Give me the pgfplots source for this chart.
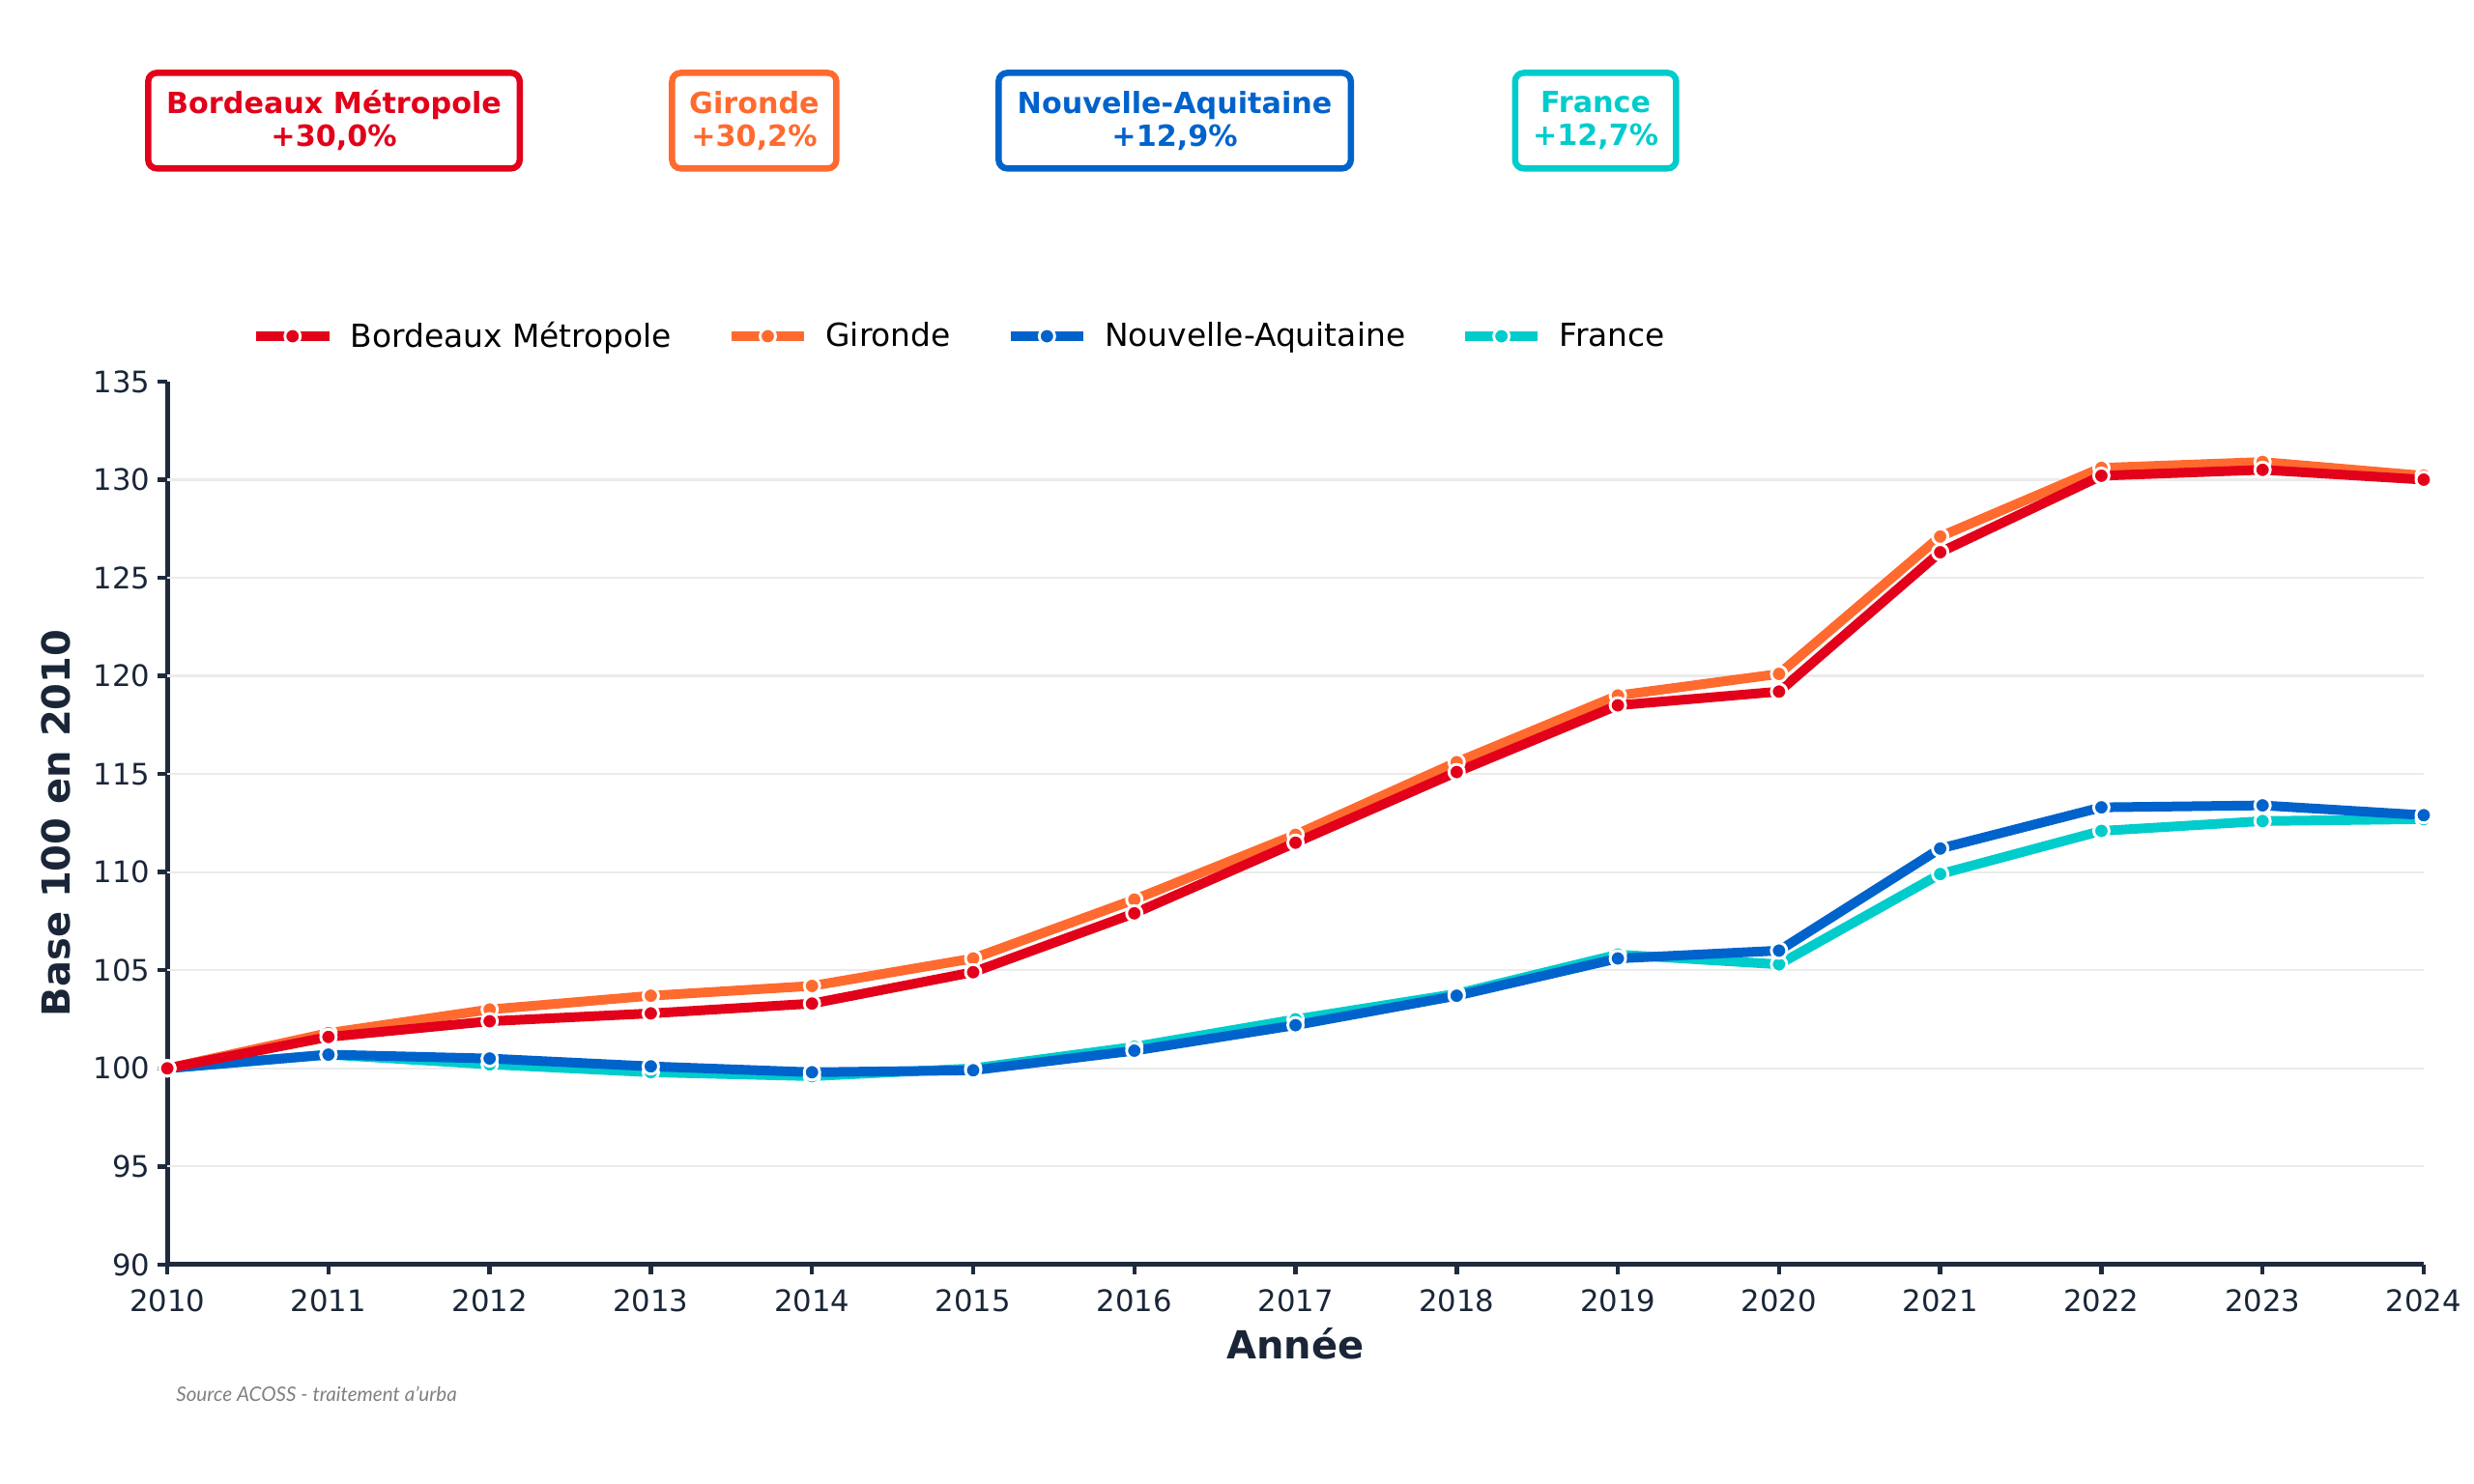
\documentclass[border=0pt]{standalone}
\usepackage{fontspec}
\setmainfont{DejaVu Sans}
\newfontfamily\srcfont{Lato}
\usepackage{pgfplots}
\pgfplotsset{compat=1.18}
\definecolor{cBM}{HTML}{E2001A}
\definecolor{cGI}{HTML}{FF6A2F}
\definecolor{cNA}{HTML}{0063CB}
\definecolor{cFR}{HTML}{00CCCC}
\definecolor{axiscol}{HTML}{1F2B3C}
\definecolor{tickcol}{HTML}{1A2638}
\definecolor{gridcol}{HTML}{EBEBEB}
\begin{document}
\begin{tikzpicture}
\useasboundingbox (0,0) rectangle (1152pt,691.2pt);
\begin{axis}[
  at={(77.9pt,102.2pt)}, anchor=south west,
  scale only axis, width=1050.7pt, height=411.3pt,
  xmin=2010, xmax=2024, ymin=90, ymax=135,
  xtick={2010,2011,...,2024}, ytick={90,95,...,135},
  extra y ticks={95,100,...,130},
  extra y tick style={grid=major, major tick length=0pt, yticklabels={}},
  grid style={line width=1pt, color=gridcol},
  axis x line*=bottom, axis y line*=left,
  axis line style={line width=2.2pt, color=axiscol, -},
  every tick/.style={line width=2pt, color=axiscol},
  major tick length=4.5pt, tick align=outside,
  tick label style={font=\fontsize{13.8}{16}\selectfont, color=tickcol},
  /pgf/number format/assume math mode=true,
  x tick label style={/pgf/number format/1000 sep={}, yshift=-3.5pt},
  xlabel={Année}, ylabel={Base 100 en 2010},
  label style={font=\bfseries\fontsize{18}{21}\selectfont, color=tickcol},
  xlabel style={at={(axis description cs:0.5,-0.09)}, anchor=center},
  ylabel style={at={(axis description cs:-0.0495,0.5)}, anchor=center, rotate=0},
  legend columns=4,
  legend cell align=left,
  legend style={draw=none, fill=none, at={(axis description cs:0.0370,1.0513)}, anchor=west,
    font=\fontsize{14.8}{17}\selectfont, inner xsep=0pt,
    /tikz/every odd column/.append style={column sep=5.7pt},
    /tikz/every even column/.append style={column sep=23.5pt}},
  legend image code/.code={\draw[mark repeat=2, mark phase=2, #1] plot coordinates {(0pt,0pt)(17pt,0pt)(34pt,0pt)};},
  clip=false,
]
\pgfplotsset{
  ser/.style={line width=4.5pt, color=#1, line join=round, mark=*, mark size=3.6pt,
    mark options={fill=#1, draw=white, line width=1.3pt, solid}},
}
\addlegendimage{ser=cBM}\addlegendentry{Bordeaux Métropole}
\addlegendimage{ser=cGI}\addlegendentry{Gironde}
\addlegendimage{ser=cNA}\addlegendentry{Nouvelle-Aquitaine}
\addlegendimage{ser=cFR}\addlegendentry{France}
% France
\addplot[ser=cFR, forget plot] coordinates {(2010,100)(2011,100.7)(2012,100.2)(2013,99.8)(2014,99.6)(2015,100.0)(2016,101.1)(2017,102.5)(2018,103.8)(2019,105.8)(2020,105.3)(2021,109.9)(2022,112.1)(2023,112.6)(2024,112.7)};
% Nouvelle-Aquitaine
\addplot[ser=cNA, forget plot] coordinates {(2010,100)(2011,100.7)(2012,100.5)(2013,100.1)(2014,99.8)(2015,99.9)(2016,100.9)(2017,102.2)(2018,103.7)(2019,105.6)(2020,106.0)(2021,111.2)(2022,113.3)(2023,113.4)(2024,112.9)};
% Gironde
\addplot[ser=cGI, forget plot] coordinates {(2010,100)(2011,101.8)(2012,103.0)(2013,103.7)(2014,104.2)(2015,105.6)(2016,108.6)(2017,111.9)(2018,115.6)(2019,119.0)(2020,120.1)(2021,127.1)(2022,130.6)(2023,130.9)(2024,130.2)};
% Bordeaux Metropole
\addplot[ser=cBM, forget plot] coordinates {(2010,100)(2011,101.6)(2012,102.4)(2013,102.8)(2014,103.3)(2015,104.9)(2016,107.9)(2017,111.5)(2018,115.1)(2019,118.5)(2020,119.2)(2021,126.3)(2022,130.2)(2023,130.5)(2024,130.0)};
\end{axis}
\tikzset{box/.style={line width=2.9pt, rounded corners=4pt, align=center, minimum height=44.5pt,
  font=\bfseries\fontsize{13.6}{15.4}\selectfont, fill=white}}
\node[box, draw=cBM, text=cBM, minimum width=173pt] at (155.5pt,635pt) {Bordeaux Métropole\\+30,0\%};
\node[box, draw=cGI, text=cGI, minimum width=76.5pt] at (351.2pt,635pt) {Gironde\\+30,2\%};
\node[box, draw=cNA, text=cNA, minimum width=164pt] at (547pt,635pt) {Nouvelle-Aquitaine\\+12,9\%};
\node[box, draw=cFR, text=cFR, minimum width=75pt] at (743pt,635pt) {France\\+12,7\%};
\node[anchor=west, font=\srcfont\itshape\fontsize{9.3}{11}\selectfont, text=gray] at (78.5pt,41.8pt) {Source ACOSS - traitement a’urba};
\end{tikzpicture}
\end{document}
